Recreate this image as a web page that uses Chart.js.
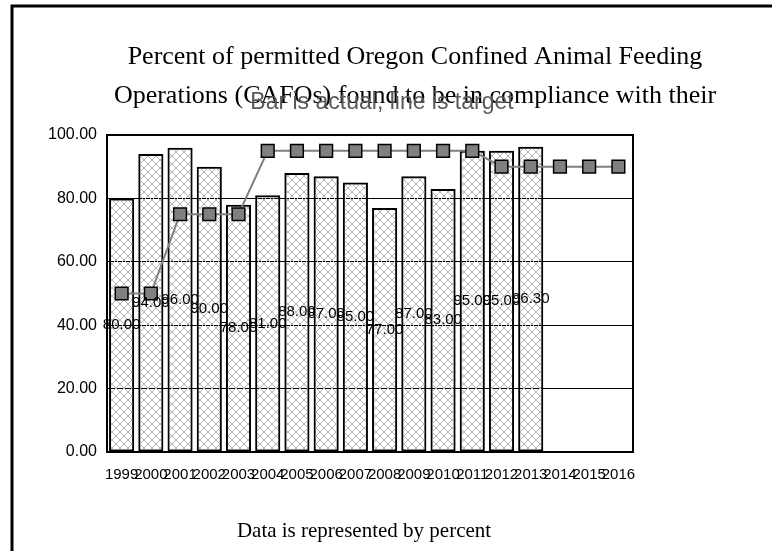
<!DOCTYPE html>
<html>
<head>
<meta charset="utf-8">
<script src="https://cdn.jsdelivr.net/npm/chart.js"></script>
<style>
  body { margin: 0; background: #fff; }
  canvas { display: block; }
</style>
</head>
<body>
<canvas id="cafoChart" width="772" height="551"></canvas>
<script>
// datos
const years = ['1999', '2000', '2001', '2002', '2003', '2004', '2005', '2006', '2007',
               '2008', '2009', '2010', '2011', '2012', '2013', '2014', '2015', '2016'];
const actual = [80, 94, 96, 90, 78, 81, 88, 87, 85, 77, 87, 83, 95, 95, 96.3, null, null, null];
const target = [50, 50, 75, 75, 75, 95, 95, 95, 95, 95, 95, 95, 95, 90, 90, 90, 90, 90];
const titleLines = ['Percent of permitted Oregon Confined Animal Feeding',
                    'Operations (CAFOs) found to be in compliance with their'];
const subtitleText = 'Bar is actual, line is target';
const footText = 'Data is represented by percent';

// trama cruzada de las barras
function crossHatch() {
    const c = document.createElement('canvas');
    c.width = 8; c.height = 8;
    const g = c.getContext('2d');
    g.strokeStyle = '#b4b4b4';
    g.lineWidth = 1;
    g.beginPath();
    g.moveTo(0, 0); g.lineTo(8, 8);
    g.moveTo(0, 8); g.lineTo(8, 0);
    g.stroke();
    return g.createPattern(c, 'repeat');
}

const decor = {
    id: 'decor',
    beforeDraw(chart) {
        const ctx = chart.ctx;
        ctx.save();
        ctx.fillStyle = '#fff';
        ctx.fillRect(0, 0, chart.width, chart.height);
        // marco exterior
        ctx.strokeStyle = '#000';
        ctx.lineWidth = 3;
        ctx.strokeRect(12, 6, chart.width + 20, chart.height + 20);
        ctx.restore();
    },
    afterDatasetsDraw(chart) {
        const ctx = chart.ctx;
        const meta = chart.getDatasetMeta(0);
        ctx.save();
        ctx.font = '15px "Liberation Sans", Arial, sans-serif';
        ctx.fillStyle = '#000';
        ctx.textAlign = 'center';
        ctx.textBaseline = 'middle';
        meta.data.forEach((bar, i) => {
            if (actual[i] == null) return;
            ctx.fillText(actual[i].toFixed(2), bar.x, (bar.y + bar.base) / 2);
        });
        ctx.restore();
    },
    afterDraw(chart) {
        const ctx = chart.ctx;
        const a = chart.chartArea;
        ctx.save();
        ctx.strokeStyle = '#000';
        ctx.lineWidth = 2;
        ctx.strokeRect(a.left, a.top, a.right - a.left, a.bottom - a.top);

        ctx.textAlign = 'center';
        ctx.textBaseline = 'alphabetic';
        ctx.fillStyle = '#000';
        ctx.font = '26px "Liberation Serif", "Times New Roman", serif';
        ctx.fillText(titleLines[0], 415, 64);
        ctx.fillText(titleLines[1], 415, 103);

        ctx.fillStyle = '#595959';
        ctx.font = '23px "Liberation Sans", Arial, sans-serif';
        ctx.fillText(subtitleText, 382, 109);

        ctx.fillStyle = '#000';
        ctx.font = '21px "Liberation Serif", "Times New Roman", serif';
        ctx.fillText(footText, 364, 537);
        ctx.restore();
    }
};

const ctx = document.getElementById('cafoChart').getContext('2d');
const cafoChart = new Chart(ctx, {
    type: 'bar',
    data: {
        labels: years,
        datasets: [{
            type: 'bar',
            label: 'Actual',
            data: actual,
            backgroundColor: crossHatch(),
            borderColor: '#000',
            borderWidth: 2,
            borderSkipped: false,
            barPercentage: 0.86,
            categoryPercentage: 1.0,
            order: 2
        }, {
            type: 'line',
            label: 'Target',
            data: target,
            borderColor: '#808080',
            borderWidth: 2,
            pointStyle: 'rect',
            pointRadius: 9,
            pointBackgroundColor: '#808080',
            pointBorderColor: '#000',
            pointBorderWidth: 1.5,
            tension: 0,
            order: 1
        }]
    },
    options: {
        responsive: false,
        animation: false,
        events: [],
        layout: {
            padding: { left: 0, top: 135, right: 139, bottom: 0 }
        },
        plugins: {
            legend: { display: false },
            title: { display: false },
            tooltip: { enabled: false }
        },
        scales: {
            x: {
                grid: { display: false },
                border: { display: true, color: '#000', width: 2 },
                ticks: {
                    color: '#000',
                    font: { family: '"Liberation Sans", Arial, sans-serif', size: 15 },
                    maxRotation: 0,
                    autoSkip: false,
                    padding: 6
                },
                afterFit(scale) { scale.height = 99; }
            },
            y: {
                min: 0,
                max: 100,
                grid: {
                    color: (c) => (c.tick.value > 0 && c.tick.value < 100) ? '#000' : 'rgba(0,0,0,0)',
                    lineWidth: 1,
                    drawTicks: false
                },
                border: { display: true, color: '#000', width: 2 },
                ticks: {
                    stepSize: 20,
                    color: '#000',
                    font: { family: '"Liberation Sans", Arial, sans-serif', size: 16 },
                    padding: 10,
                    callback: (v) => Number(v).toFixed(2)
                },
                afterFit(scale) { scale.width = 107; }
            }
        }
    },
    plugins: [decor]
});
</script>
</body>
</html>
